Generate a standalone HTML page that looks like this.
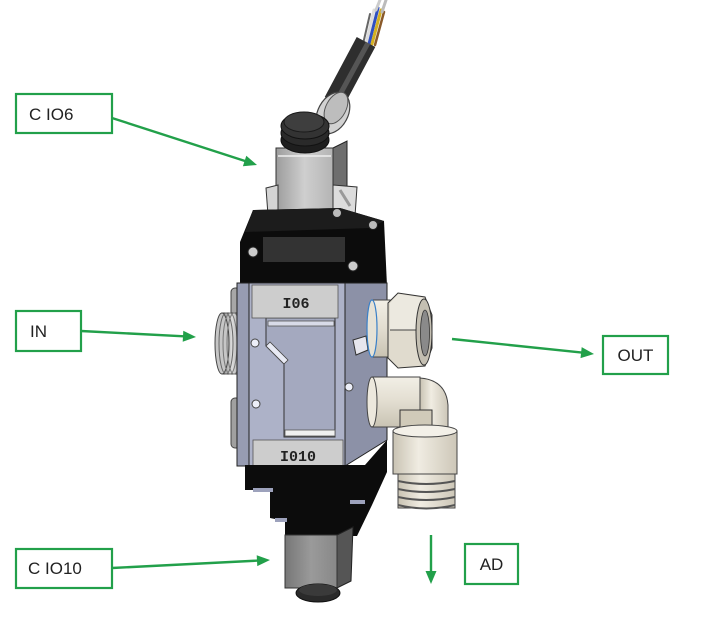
<!DOCTYPE html>
<html><head><meta charset="utf-8"><style>
html,body{margin:0;padding:0;background:#fff;}
svg{display:block;}
</style></head><body>
<svg width="717" height="635" viewBox="0 0 717 635" xmlns="http://www.w3.org/2000/svg">
<defs>
<linearGradient id="gbox" x1="0" y1="0" x2="1" y2="0"><stop offset="0" stop-color="#9c9c9c"/><stop offset="0.5" stop-color="#cfcfcf"/><stop offset="1" stop-color="#b4b4b4"/></linearGradient>
<linearGradient id="gbox2" x1="0" y1="0" x2="1" y2="0"><stop offset="0" stop-color="#777"/><stop offset="0.5" stop-color="#9a9a9a"/><stop offset="1" stop-color="#888"/></linearGradient>
<linearGradient id="cream" x1="0" y1="0" x2="0" y2="1"><stop offset="0" stop-color="#f2efe6"/><stop offset="0.5" stop-color="#e2ddd0"/><stop offset="1" stop-color="#c9c3b3"/></linearGradient>
<linearGradient id="creamh" x1="0" y1="0" x2="1" y2="0"><stop offset="0" stop-color="#c9c3b3"/><stop offset="0.4" stop-color="#f0ece2"/><stop offset="1" stop-color="#cdc7b8"/></linearGradient>
<linearGradient id="thread" x1="0" y1="0" x2="1" y2="0"><stop offset="0" stop-color="#888"/><stop offset="0.5" stop-color="#ddd"/><stop offset="1" stop-color="#999"/></linearGradient>
</defs>

<!-- ===== cable & wires ===== -->
<g stroke-linecap="round">
<line x1="366" y1="44" x2="374" y2="10" stroke="#ddd" stroke-width="3"/>
<line x1="369" y1="44" x2="378" y2="8" stroke="#3050c0" stroke-width="3"/>
<line x1="372" y1="44" x2="381" y2="10" stroke="#d4b020" stroke-width="3"/>
<line x1="375" y1="45" x2="384" y2="12" stroke="#8a5a2a" stroke-width="2.5"/>
<line x1="363" y1="44" x2="370" y2="14" stroke="#666" stroke-width="2"/>
<line x1="376" y1="10" x2="380" y2="0" stroke="#ccc" stroke-width="3"/>
<line x1="382" y1="12" x2="386" y2="0" stroke="#bbb" stroke-width="3"/>
</g>
<line x1="334" y1="102" x2="366" y2="42" stroke="#2e2e2e" stroke-width="21"/>
<line x1="337" y1="100" x2="368" y2="43" stroke="#555" stroke-width="5"/>

<!-- ring nut -->
<ellipse cx="333" cy="113" rx="15" ry="22" transform="rotate(28 333 113)" fill="#d2d2d2" stroke="#444" stroke-width="1.2"/>
<ellipse cx="336" cy="108" rx="10" ry="17" transform="rotate(28 336 108)" fill="#bdbdbd" stroke="#555" stroke-width="1"/>

<!-- top grey connector box -->
<polygon points="333,148 347,141 347,205 333,213" fill="#6e6e6e" stroke="#222" stroke-width="1"/>
<rect x="276" y="148" width="57" height="65" fill="url(#gbox)" stroke="#333" stroke-width="1"/>
<line x1="278" y1="156" x2="331" y2="156" stroke="#eee" stroke-width="1.5"/>

<!-- black cap -->
<ellipse cx="305" cy="140" rx="24" ry="13" fill="#1e1e1e" stroke="#111"/>
<ellipse cx="305" cy="133" rx="24" ry="13" fill="#2a2a2a" stroke="#111"/>
<ellipse cx="305" cy="126" rx="24" ry="13" fill="#333" stroke="#111"/>
<ellipse cx="304" cy="122" rx="20" ry="10" fill="#3e3e3e" stroke="#1a1a1a"/>

<!-- brackets -->
<polygon points="266,188 278,185 278,212 268,215" fill="#d4d4d4" stroke="#333" stroke-width="1"/>
<polygon points="333,185 357,187 355,216 333,213" fill="#dcdcdc" stroke="#333" stroke-width="1"/>
<line x1="340" y1="190" x2="350" y2="206" stroke="#999" stroke-width="3"/>

<!-- ===== top black block ===== -->
<polygon points="253,210 340,208 384,221 387,286 240,286 240,242" fill="#0c0c0c"/>
<polygon points="253,210 340,208 384,221 370,228 245,232" fill="#1c1c1c"/>
<rect x="263" y="237" width="82" height="25" fill="#333"/>
<circle cx="253" cy="252" r="5" fill="#ccc" stroke="#222"/>
<circle cx="353" cy="266" r="5" fill="#ccc" stroke="#222"/>
<circle cx="373" cy="225" r="4.5" fill="#bbb" stroke="#222"/>
<circle cx="337" cy="213" r="4.5" fill="#bbb" stroke="#222"/>

<!-- ===== left ports ===== -->
<rect x="231" y="288" width="14" height="32" rx="4" fill="#a7a7a7" stroke="#444" stroke-width="1"/>
<rect x="231" y="398" width="14" height="50" rx="4" fill="#a0a0a0" stroke="#444" stroke-width="1"/>
<!-- IN threaded port -->
<rect x="222" y="313" width="20" height="61" fill="url(#thread)" stroke="#444" stroke-width="1"/>
<ellipse cx="222" cy="343.5" rx="7" ry="30.5" fill="#c6c6c6" stroke="#444" stroke-width="1"/>
<ellipse cx="226" cy="343.5" rx="7" ry="30.5" fill="none" stroke="#666" stroke-width="1"/>
<ellipse cx="230" cy="343.5" rx="7" ry="30.5" fill="none" stroke="#777" stroke-width="1"/>
<ellipse cx="234" cy="343.5" rx="7" ry="30.5" fill="none" stroke="#777" stroke-width="1"/>

<!-- ===== main body ===== -->
<polygon points="345,283 387,283 387,440 345,466" fill="#8c91a7" stroke="#222" stroke-width="1"/>
<rect x="237" y="283" width="12" height="183" fill="#979cb2" stroke="#222" stroke-width="1"/>
<rect x="249" y="283" width="96" height="183" fill="#adb2c8" stroke="#222" stroke-width="1"/>
<!-- channel -->
<polygon points="266,318 335,318 335,437 284,437 284,364 266,346" fill="#a4a9bf" stroke="#333" stroke-width="1"/>
<rect x="268" y="321" width="66" height="5" fill="#d8dbe8" stroke="#555" stroke-width="0.8"/>
<polygon points="266,346 284,364 288,360 270,342" fill="#e8eaf4" stroke="#444" stroke-width="0.8"/>
<rect x="285" y="430" width="50" height="6" fill="#f0f0f0" stroke="#555" stroke-width="0.8"/>
<!-- holes -->
<circle cx="255" cy="343" r="4" fill="#eceef8" stroke="#444"/>
<circle cx="256" cy="404" r="4" fill="#eceef8" stroke="#444"/>
<circle cx="349" cy="387" r="4" fill="#eceef8" stroke="#444"/>
<!-- latch -->
<polygon points="353,340 366,336 368,350 356,355" fill="#e6e6ee" stroke="#333" stroke-width="1"/>
<!-- labels -->
<rect x="252" y="285" width="86" height="33" fill="#cdcdcd" stroke="#555" stroke-width="0.8"/>
<text x="296" y="308" text-anchor="middle" style="font-family:'Liberation Mono',monospace;font-weight:bold;font-size:15px" fill="#222">I06</text>
<rect x="253" y="440" width="90" height="26" fill="#cdcdcd" stroke="#555" stroke-width="0.8"/>
<text x="298" y="461" text-anchor="middle" style="font-family:'Liberation Mono',monospace;font-weight:bold;font-size:15px" fill="#222">I010</text>

<!-- ===== bottom black block ===== -->
<polygon points="245,465 365,465 387,440 387,472 372,505 357,536 285,536 285,521 270,518 270,490 245,490" fill="#0c0c0c"/>
<rect x="253" y="488" width="20" height="4" fill="#9da2bc"/>
<rect x="350" y="500" width="15" height="4" fill="#9da2bc"/>
<rect x="275" y="518" width="12" height="4" fill="#9da2bc"/>

<!-- lower grey connector -->
<polygon points="337,535 353,527 351,581 337,588" fill="#555" stroke="#222" stroke-width="1"/>
<rect x="285" y="535" width="52" height="53" fill="url(#gbox2)" stroke="#333" stroke-width="1"/>
<ellipse cx="318" cy="593" rx="22" ry="9" fill="#2a2a2a" stroke="#111"/>
<ellipse cx="318" cy="590" rx="19" ry="6" fill="#3a3a3a"/>

<!-- ===== OUT fitting ===== -->
<rect x="372" y="300" width="18" height="57" fill="url(#cream)" stroke="#444" stroke-width="1"/>
<ellipse cx="372" cy="328.5" rx="5" ry="28.5" fill="#e6e2d6" stroke="#3a80c8" stroke-width="1.2"/>
<polygon points="388,303 398,293 425,297 432,315 432,348 425,366 398,368 388,358" fill="#e0dbce" stroke="#333" stroke-width="1"/>
<polygon points="390,303 398,294 424,298 420,330 390,330" fill="#ece9e0"/>
<line x1="390" y1="330" x2="420" y2="330" stroke="#444" stroke-width="1"/>
<ellipse cx="424" cy="332" rx="8" ry="33" fill="#c4bfb2" stroke="#333" stroke-width="1"/>
<ellipse cx="425" cy="333" rx="4.5" ry="23" fill="#8a8a8a" stroke="#333" stroke-width="0.8"/>

<!-- ===== elbow fitting ===== -->
<path d="M420,378 Q446,380 448,405 L448,440 L420,440 Z" fill="url(#creamh)" stroke="#444" stroke-width="1"/>
<rect x="372" y="377" width="48" height="50" fill="url(#cream)" stroke="#444" stroke-width="1"/>
<ellipse cx="372" cy="402" rx="5" ry="25" fill="#ece8dd" stroke="#444" stroke-width="1"/>
<rect x="400" y="410" width="32" height="27" fill="#d0cab9" stroke="#333" stroke-width="1"/>
<!-- vertical part -->
<rect x="393" y="431" width="64" height="43" fill="url(#creamh)" stroke="#444" stroke-width="1"/>
<ellipse cx="425" cy="431" rx="32" ry="6" fill="#f3f0e8" stroke="#444" stroke-width="1"/>
<rect x="398" y="474" width="57" height="34" fill="url(#creamh)" stroke="#444" stroke-width="1"/>
<g stroke="#555" stroke-width="2" fill="none">
<path d="M398,481 Q426,487 455,481"/>
<path d="M398,489 Q426,495 455,489"/>
<path d="M398,497 Q426,503 455,497"/>
<path d="M398,505 Q426,512 455,505"/>
</g>

<!-- ===== green labels & arrows ===== -->
<g fill="#fff" stroke="#22a04a" stroke-width="2.2">
<rect x="16" y="94" width="96" height="39"/>
<rect x="16" y="311" width="65" height="40"/>
<rect x="603" y="336" width="65" height="38"/>
<rect x="16" y="549" width="96" height="39"/>
<rect x="465" y="544" width="53" height="40"/>
</g>
<g stroke="#22a04a" stroke-width="2.4" fill="none">
<line x1="112" y1="118" x2="245" y2="161"/>
<line x1="81" y1="331" x2="184" y2="336.3"/>
<line x1="452" y1="339" x2="582" y2="352.6"/>
<line x1="112" y1="568" x2="258" y2="560.6"/>
<line x1="431" y1="535" x2="431" y2="572"/>
</g>
<g fill="#22a04a">
<polygon points="257,165 246.3,155.8 242.9,166.2"/>
<polygon points="196,337 182.7,341.8 183.3,330.8"/>
<polygon points="594,354 580.5,358.1 581.7,347.1"/>
<polygon points="270,560 257.3,566.1 256.7,555.2"/>
<polygon points="431,584 425.5,571 436.5,571"/>
</g>
<g style="font-family:'Liberation Sans',sans-serif;font-size:17px" fill="#222">
<text x="29" y="120">C IO6</text>
<text x="30" y="337">IN</text>
<text x="635.5" y="361" text-anchor="middle">OUT</text>
<text x="28" y="574">C IO10</text>
<text x="491.5" y="570" text-anchor="middle">AD</text>
</g>
</svg>
</body></html>
